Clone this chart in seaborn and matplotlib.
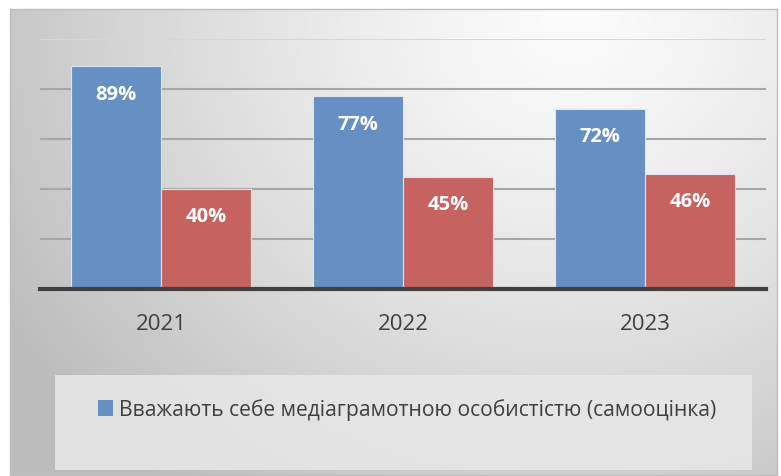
import numpy as np
import pandas as pd
import matplotlib
matplotlib.use('Agg')
import matplotlib.pyplot as plt
import seaborn as sns
from matplotlib.patches import Patch, Rectangle

years = ['2021', '2022', '2023']
self_rated = [89, 77, 72]
second_series = [40, 45, 46]
legend_label = 'Вважають себе медіаграмотною особистістю (самооцінка)'

blue = '#6690c4'
red = '#c6625f'

sns.set_style('white')
plt.rcParams['font.family'] = ['Open Sans', 'DejaVu Sans']

df = pd.DataFrame({
    'year': years * 2,
    'value': self_rated + second_series,
    'series': ['self'] * 3 + ['other'] * 3,
})

W, H = 781, 477
fig = plt.figure(figsize=(W / 100, H / 100), dpi=100)
fig.patch.set_facecolor('white')

# gradient background panel
bg = fig.add_axes([10 / W, 1 / H, 767 / W, 466 / H])
yy, xx = np.mgrid[0:466, 0:767]
d = np.sqrt((xx - 560) ** 2 + ((yy - 10) * 1.1) ** 2)
shade = np.clip(0.985 - 0.23 * (d / 620) ** 1.3, 0.74, 1)
bg.imshow(np.dstack([shade] * 3), aspect='auto', interpolation='bilinear')
bg.set_xticks([])
bg.set_yticks([])
for s in bg.spines.values():
    s.set_color('#bdbdbd')
    s.set_linewidth(1)

ax = fig.add_axes([40 / W, (H - 290) / H, 726 / W, 250 / H])
ax.patch.set_alpha(0)
ax.set_axisbelow(True)
for yv, c in zip([20, 40, 60, 80, 100], ['#a6a6a6'] * 4 + ['#d6d6d6']):
    ax.axhline(yv, color=c, linewidth=1.5, zorder=0)

sns.barplot(data=df, x='year', y='value', hue='series', hue_order=['self', 'other'],
            palette=[blue, red], width=0.744, saturation=1, ax=ax,
            edgecolor='#dbe4f0', linewidth=0.8, legend=False)

for container in ax.containers:
    for bar in container:
        h = bar.get_height()
        ax.text(bar.get_x() + bar.get_width() / 2, h - 11, f'{h:.0f}%',
                ha='center', va='center', color='white', fontsize=14.5,
                fontweight='bold')

ax.set_ylim(0, 100)
ax.set_xlim(-0.5, 2.5)
ax.set_yticks([])
ax.set_xlabel('')
ax.set_ylabel('')
for s in ['top', 'right', 'left']:
    ax.spines[s].set_visible(False)
ax.spines['bottom'].set_color('#404040')
ax.spines['bottom'].set_linewidth(3)
ax.tick_params(axis='x', length=0, pad=17, labelsize=16, labelcolor='#404040')

# legend box
fig.patches.append(Rectangle((55 / W, (H - 471) / H), 697 / W, 95 / H,
                             transform=fig.transFigure, facecolor='#e8e8e8',
                             edgecolor='none', alpha=0.85))
fig.legend(handles=[Patch(facecolor=blue, edgecolor='none', label=legend_label)],
           loc='center', bbox_to_anchor=(407 / W, (H - 410) / H),
           frameon=False, fontsize=15.2, handlelength=0.7, handleheight=0.8,
           handletextpad=0.3, labelcolor='#404040')

fig.savefig('out.png', dpi=100)
